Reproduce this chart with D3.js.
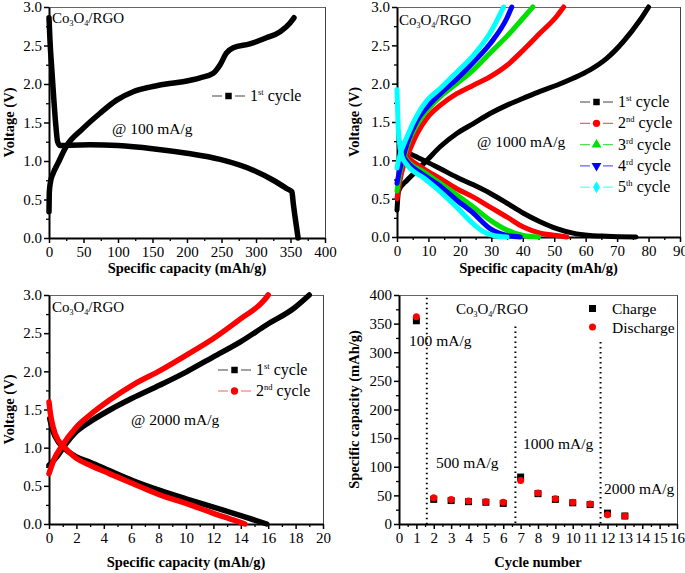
<!DOCTYPE html>
<html><head><meta charset="utf-8">
<script src="https://cdn.jsdelivr.net/npm/d3@7"></script>
<style>body{margin:0;background:#fff} text{font-family:"Liberation Serif","Times New Roman",serif;fill:#000}</style>
</head><body><svg id="c" width="685" height="573"></svg>
<script>
// ---------- DATA ----------
// Panel (a) 100 mA/g, 1st cycle  [capacity mAh/g, voltage V]
const p100Discharge = [[0,2.86],[1.5,2.55],[4,2.2],[7,1.8],[10,1.45],[12.5,1.25],[16,1.2],[30,1.205],[60,1.21],[100,1.2],[150,1.16],[200,1.1],[248,1.02],[296,0.88],[325,0.75],[345,0.64],[352,0.6],[354,0.45],[357,0.25],[361,0]];
const p100Charge = [[0,0.34],[0.5,0.6],[2,0.72],[6,0.84],[13,0.97],[25,1.19],[49,1.42],[74,1.62],[98,1.79],[122,1.9],[146,1.96],[170,2.0],[194,2.03],[219,2.08],[238,2.14],[248,2.25],[257,2.4],[267,2.47],[291,2.52],[315,2.6],[335,2.68],[349,2.79],[355,2.86]];

// Panel (b) 1000 mA/g, cycles 1-5
const p1000Discharge1 = [[1.2,1.22],[3,1.12],[6,1.05],[9.5,0.98],[13.8,0.89],[19,0.78],[24.3,0.68],[29.6,0.57],[35,0.44],[40.2,0.31],[45.5,0.2],[50.8,0.11],[56,0.05],[61.4,0.02],[66.7,0.01],[76,0]];
const p1000Charge1 = [[0,0.35],[0.5,0.6],[3.2,0.74],[6.4,0.87],[9.5,1.0],[13.8,1.18],[19,1.35],[24.3,1.48],[29.6,1.61],[35,1.72],[40.2,1.81],[45.5,1.9],[50.8,1.98],[56,2.07],[61.4,2.18],[66.7,2.33],[72,2.55],[77.3,2.83],[80,3.0]];
const p1000Discharge2 = [[1,1.17],[3.2,1.05],[8.5,0.89],[13.8,0.76],[19,0.63],[24.3,0.52],[29.6,0.39],[35,0.26],[40.2,0.13],[45.5,0.05],[50.8,0.02],[54,0]];
const p1000Charge2 = [[0,0.5],[1,0.75],[2,0.92],[3.2,1.05],[6.4,1.35],[9.5,1.55],[13.8,1.72],[19,1.87],[24.3,1.98],[29.6,2.09],[35,2.24],[40.2,2.44],[45.5,2.66],[50.8,2.88],[53,3.0]];
const p1000Discharge3 = [[1,1.15],[3.2,1.0],[8.5,0.85],[13.8,0.7],[19,0.55],[24.3,0.39],[29.6,0.22],[35,0.09],[40.2,0.02],[45,0]];
const p1000Charge3 = [[0,0.6],[1,0.85],[2,1.0],[3.2,1.18],[6.4,1.47],[9.5,1.65],[13.8,1.83],[19,2.0],[24.3,2.18],[29.6,2.4],[35,2.62],[40.2,2.86],[43.2,3.0]];
const p1000Discharge4 = [[1,1.12],[3.2,0.98],[8.5,0.81],[13.8,0.66],[19,0.48],[24.3,0.31],[29.6,0.11],[35,0.02],[39.2,0]];
const p1000Charge4 = [[0,0.7],[1,0.9],[2,1.05],[3.2,1.22],[6.4,1.52],[9.5,1.69],[13.8,1.87],[19,2.06],[24.3,2.28],[29.6,2.52],[35,2.86],[36.5,3.0]];
const p1000Discharge5 = [[0,1.92],[0.5,1.35],[1.6,1.05],[3.2,0.94],[8.5,0.77],[13.8,0.59],[19,0.39],[24.3,0.17],[27.5,0.07],[30.7,0.02],[35,0]];
const p1000Charge5 = [[0,0.9],[0.5,1.0],[3.2,1.31],[6.4,1.59],[9.5,1.78],[13.8,1.94],[19,2.15],[24.3,2.37],[29.6,2.66],[33.9,3.0]];

// Panel (c) 2000 mA/g, cycles 1-2
const p2000Discharge1 = [[0.05,1.38],[0.3,1.21],[0.66,1.08],[1,1.01],[2,0.88],[3,0.81],[4.4,0.7],[6.1,0.57],[8.1,0.44],[10,0.33],[12,0.22],[14,0.11],[15.9,0]];
const p2000Charge1 = [[0,0.77],[0.66,0.9],[1.15,1.03],[2,1.21],[3,1.34],[4.4,1.49],[6.1,1.65],[8.1,1.82],[10,1.99],[12,2.19],[14,2.39],[15.9,2.61],[17.9,2.83],[19,3.0]];
const p2000Discharge2 = [[0,1.6],[0.1,1.45],[0.3,1.27],[0.66,1.1],[1,1.03],[2,0.86],[3,0.77],[4.4,0.66],[6.1,0.53],[8.1,0.38],[10,0.27],[12,0.14],[13.5,0.05],[14.3,0]];
const p2000Charge2 = [[0,0.66],[0.4,0.86],[0.9,1.01],[2,1.27],[3,1.43],[4.4,1.62],[6.1,1.82],[8.1,2.01],[10,2.21],[12,2.43],[14,2.69],[15.7,2.93],[16,3.0]];

// Panel (d) rate capability
const cycles = [1,2,3,4,5,6,7,8,9,10,11,12,13];
const chargeCap = [355,43,41,39,38,36,82,53,43,37,34,19,14];
const dischargeCap = [362,46,43,40,39,38,76,54,44,38,35,16,14];
const rateLabels = ["100 mA/g","500 mA/g","1000 mA/g","2000 mA/g"];
const rateDividers = [1.6,6.7,11.6];
const dividerTops = [395,345,318];

const cycleNames = [["1","st"],["2","nd"],["3","rd"],["4","rd"],["5","th"]];
const cycleColors = ["#000000","#ff0000","#00e000","#0000ff","#00ffff"];
const legendLineColors = ["#444","#ff6060","#50e050","#6060ff","#60ffff"];

// ---------- DRAW ----------
const svg = d3.select("#c");
const SERIF = "Liberation Serif";

function panel(cfg){
  const x = d3.scaleLinear().domain(cfg.xd).range([cfg.l, cfg.r]);
  const y = d3.scaleLinear().domain(cfg.yd).range([cfg.b, cfg.t]);
  const g = svg.append("g");
  g.append("line").attr("x1",cfg.l).attr("x2",cfg.r).attr("y1",cfg.t+0.5).attr("y2",cfg.t+0.5).attr("stroke","#666").attr("stroke-width",1);
  g.append("line").attr("x1",cfg.r+0.5).attr("x2",cfg.r+0.5).attr("y1",cfg.t).attr("y2",cfg.b).attr("stroke","#444").attr("stroke-width",1);
  g.append("g").attr("transform",`translate(0,${cfg.b})`)
    .call(d3.axisBottom(x).tickValues(cfg.xMinor).tickFormat("").tickSize(3).tickSizeOuter(0))
    .call(s=>{s.select(".domain").remove(); s.selectAll("line").attr("stroke-width",1.3);});
  g.append("g").attr("transform",`translate(${cfg.l},0)`)
    .call(d3.axisLeft(y).tickValues(cfg.yMinor).tickFormat("").tickSize(3).tickSizeOuter(0))
    .call(s=>{s.select(".domain").remove(); s.selectAll("line").attr("stroke-width",1.3);});
  const ax = g.append("g").attr("transform",`translate(0,${cfg.b})`)
    .call(d3.axisBottom(x).tickValues(cfg.xMajor).tickFormat(cfg.xf).tickSize(5).tickSizeOuter(0).tickPadding(3));
  const ay = g.append("g").attr("transform",`translate(${cfg.l},0)`)
    .call(d3.axisLeft(y).tickValues(cfg.yMajor).tickFormat(cfg.yf).tickSize(5).tickSizeOuter(0).tickPadding(2));
  [ax,ay].forEach(a=>{
    a.attr("font-family",SERIF);
    a.select(".domain").attr("stroke-width",2).attr("stroke","#000");
    a.selectAll(".tick line").attr("stroke-width",1.5);
    a.selectAll("text").attr("font-size",15).attr("fill","#000");
  });
  g.append("text").attr("x",(cfg.l+cfg.r)/2).attr("y",cfg.b+cfg.xty).attr("text-anchor","middle")
    .attr("font-weight","bold").attr("font-size",14.5).text(cfg.xt);
  g.append("text").attr("transform",`translate(${cfg.ytx},${(cfg.t+cfg.b)/2}) rotate(-90)`).attr("text-anchor","middle")
    .attr("dy","0.35em").attr("font-weight","bold").attr("font-size",14.5).text(cfg.yt);
  return {x,y,g};
}

function coLabel(g, x, y){
  const t = g.append("text").attr("x",x).attr("y",y).attr("font-size",15);
  t.append("tspan").text("Co");
  t.append("tspan").attr("dy",3).attr("font-size",8).text("3");
  t.append("tspan").attr("dy",-3).text("O");
  t.append("tspan").attr("dy",3).attr("font-size",8).text("4");
  t.append("tspan").attr("dy",-3).text("/RGO");
}

function marker(g, type, cx, cy, color){
  const sym = {sq:d3.symbolSquare, ci:d3.symbolCircle, up:d3.symbolTriangle, dn:d3.symbolTriangle, di:d3.symbolDiamond}[type];
  g.append("path").attr("d", d3.symbol().type(sym).size(42)())
    .attr("transform",`translate(${cx},${cy})${type==="dn"?" rotate(180)":""}`).attr("fill",color);
}

function legendEntry(g, i, x, y, mtype){
  g.append("line").attr("x1",x).attr("x2",x+33).attr("y1",y).attr("y2",y).attr("stroke",legendLineColors[i]).attr("stroke-width",1.2);
  g.append("rect").attr("x",x+10).attr("y",y-4).attr("width",13).attr("height",8).attr("fill","#fff");
  marker(g, mtype, x+16.5, y, cycleColors[i]);
  const t = g.append("text").attr("x",x+38).attr("y",y+5).attr("font-size",16);
  t.append("tspan").text(cycleNames[i][0]);
  t.append("tspan").attr("dy",-6).attr("font-size",8.5).text(cycleNames[i][1]);
  t.append("tspan").attr("dy",6).text(" cycle");
}

function curve(p, data, color, w){
  const line = d3.line().x(d=>p.x(d[0])).y(d=>p.y(d[1])).curve(d3.curveMonotoneX);
  p.g.append("path").datum(data).attr("d",line).attr("fill","none").attr("stroke",color)
    .attr("stroke-width",w).attr("stroke-linecap","round").attr("stroke-linejoin","round");
}

const vTicks = d3.range(0,3.01,0.5), vMinor = d3.range(0.25,3,0.5);
const fmtV = d3.format(".1f");

// Panel a
const pa = panel({l:49,r:325,t:7,b:238,xd:[0,400],yd:[0,3],xMajor:d3.range(0,401,50),xMinor:d3.range(25,400,50),
  yMajor:vTicks,yMinor:vMinor,xf:d3.format("d"),yf:fmtV,xt:"Specific capacity (mAh/g)",yt:"Voltage (V)",ytx:9,xty:35});
curve(pa,p100Discharge,"#000",5.5);
curve(pa,p100Charge,"#000",5.5);
coLabel(pa.g,52,23);
pa.g.append("text").attr("x",112).attr("y",134).attr("font-size",15.5).text("@ 100 mA/g");
legendEntry(pa.g,0,212,96,"sq");

// Panel b
const pb = panel({l:397,r:680,t:7,b:237,xd:[0,90],yd:[0,3],xMajor:d3.range(0,91,10),xMinor:d3.range(5,90,10),
  yMajor:vTicks,yMinor:vMinor,xf:d3.format("d"),yf:fmtV,xt:"Specific capacity (mAh/g)",yt:"Voltage (V)",ytx:354,xty:36});
const bSets = [[p1000Discharge1,p1000Charge1],[p1000Discharge2,p1000Charge2],[p1000Discharge3,p1000Charge3],[p1000Discharge4,p1000Charge4],[p1000Discharge5,p1000Charge5]];
bSets.forEach((s,i)=>{curve(pb,s[0],cycleColors[i],5); curve(pb,s[1],cycleColors[i],5);});
coLabel(pb.g,399,25);
pb.g.append("text").attr("x",477).attr("y",147).attr("font-size",15.5).text("@ 1000 mA/g");
["sq","ci","up","dn","di"].forEach((m,i)=>legendEntry(pb.g,i,580,102+i*21.3,m));

// Panel c
const pc = panel({l:49,r:323,t:295,b:524,xd:[0,20],yd:[0,3],xMajor:d3.range(0,21,2),xMinor:d3.range(1,20,2),
  yMajor:vTicks,yMinor:vMinor,xf:d3.format("d"),yf:fmtV,xt:"Specific capacity (mAh/g)",yt:"Voltage (V)",ytx:9,xty:43});
curve(pc,p2000Discharge1,"#000",5.5);
curve(pc,p2000Charge1,"#000",5.5);
curve(pc,p2000Discharge2,"#ff0000",5.5);
curve(pc,p2000Charge2,"#ff0000",5.5);
coLabel(pc.g,52,312);
pc.g.append("text").attr("x",131).attr("y",425).attr("font-size",15.5).text("@ 2000 mA/g");
legendEntry(pc.g,0,218,370,"sq");
legendEntry(pc.g,1,218,391,"ci");

// Panel d
const pd = panel({l:399,r:677,t:295,b:524,xd:[0,16],yd:[0,400],xMajor:d3.range(0,17,1),xMinor:d3.range(0.5,16,1),
  yMajor:d3.range(0,401,50),yMinor:d3.range(25,400,50),xf:d3.format("d"),yf:d3.format("d"),xt:"Cycle number",yt:"Specific capacity (mAh/g)",ytx:354,xty:43});
rateDividers.forEach((c,i)=>{
  pd.g.append("line").attr("x1",pd.x(c)).attr("x2",pd.x(c)).attr("y1",pd.y(dividerTops[i])).attr("y2",pd.y(0))
    .attr("stroke","#000").attr("stroke-width",2).attr("stroke-dasharray","1.5,3.5");
});
cycles.forEach((c,i)=>{
  pd.g.append("rect").attr("x",pd.x(c)-3.5).attr("y",pd.y(chargeCap[i])-3.5).attr("width",7).attr("height",7).attr("fill","#000");
});
cycles.forEach((c,i)=>{
  pd.g.append("circle").attr("cx",pd.x(c)).attr("cy",pd.y(dischargeCap[i])).attr("r",3.5).attr("fill","#ff0000");
});
coLabel(pd.g,456,314);
const rlPos = [[409,346],[436,468],[523,449],[604,494]];
rateLabels.forEach((t,i)=>pd.g.append("text").attr("x",rlPos[i][0]).attr("y",rlPos[i][1]).attr("font-size",15.5).text(t));
pd.g.append("rect").attr("x",589).attr("y",305).attr("width",7).attr("height",7).attr("fill","#000");
pd.g.append("text").attr("x",612).attr("y",314).attr("font-size",15.5).text("Charge");
pd.g.append("circle").attr("cx",592.5).attr("cy",327).attr("r",3.5).attr("fill","#ff0000");
pd.g.append("text").attr("x",612).attr("y",333).attr("font-size",15.5).text("Discharge");
</script></body></html>
